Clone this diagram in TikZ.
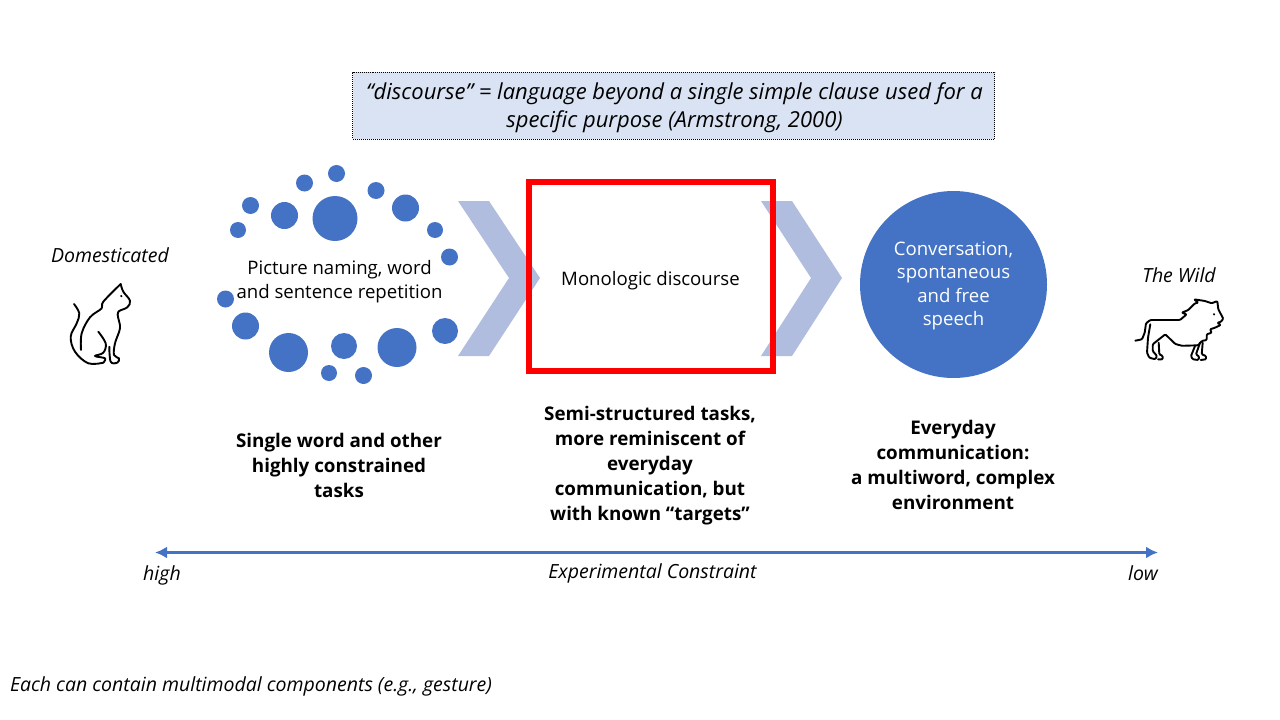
\documentclass[tikz,border=0pt]{standalone}
\usepackage{fontspec}
\setmainfont{Open Sans}
\usetikzlibrary{arrows.meta}
\definecolor{dotblue}{HTML}{4472C4}
\definecolor{chevblue}{HTML}{B0BDDE}
\definecolor{notefill}{HTML}{DAE3F3}
\tikzset{
  labeltext/.style={align=center,font=\fontsize{18.6}{23.5}\selectfont},
  boldtext/.style={align=center,font=\fontsize{18.8}{25}\selectfont\bfseries},
  slanttext/.style={font=\fontsize{19.5}{24}\selectfont\itshape},
  sketch/.style={line width=1.9pt,line cap=round,line join=round},
}
\begin{document}
\begin{tikzpicture}[x=1pt,y=-1pt]
  \useasboundingbox (0,0) rectangle (1280,720);
  % the definition on top
  \node[draw,dash pattern=on 1pt off 1pt,line width=.8pt,fill=notefill,minimum width=642pt,minimum height=67pt] (note) at (673.5,105.5) {};
  \node[align=center,font=\fontsize{22}{28}\selectfont\itshape] (notetext) at (674.5,107.5)
    {“discourse” = language beyond a single simple clause used for a\\specific purpose (Armstrong, 2000)};
  % ring of dots
  \foreach \x/\y/\r in {335/218.5/22.5, 284.5/215.5/13.5, 304.5/183/8.5, 336.5/173.5/8.5, 376/190.5/8.5,
    405.5/208/13.5, 435/230/8, 449.5/257/8.5, 250.5/205.5/8.5, 238/230/8, 225.5/299/8.5, 245.5/326/13.5,
    288.5/352.5/19.5, 344/346/13, 397/347.5/19.5, 445/331/13, 329/373/8, 363.5/375.5/8.5}
    \fill[dotblue] (\x,\y) circle (\r);
  \node[labeltext] (naming) at (339.5,281.5) {Picture naming, word\\and sentence repetition};
  % chevrons
  \fill[chevblue] (458,201) -- (489,201) -- (540,278) -- (489,356) -- (458,356) -- (509,278) -- cycle;
  \fill[chevblue] (761,201) -- (792,201) -- (842,278) -- (792,356) -- (761,356) -- (811,278) -- cycle;
  \node[draw=red,line width=5.6pt,minimum width=244pt,minimum height=189pt,outer sep=0pt] (mono) at (650.8,276.4) {};
  \node[labeltext] (monotext) at (650.5,280.5) {Monologic discourse};
  \node[circle,fill=dotblue,minimum size=187pt,inner sep=0pt] (speech) at (953.5,284.5) {};
  \node[labeltext,text=white] (speechtext) at (953.5,286) {Conversation,\\spontaneous\\and free\\speech};
  % the bold captions
  \node[boldtext] (single) at (339,465) {Single word and other\\highly constrained\\tasks};
  \node[boldtext] (semi) at (650,466) {Semi-structured tasks,\\more reminiscent of\\everyday\\communication, but\\with known “targets”};
  \node[boldtext] (everyday) at (953,464.5) {Everyday\\communication:\\a multiword, complex\\environment};
  % constraint axis
  \coordinate (high) at (155,552.5);
  \coordinate (low) at (1158,552.5);
  \draw[dotblue,line width=3.8pt,{Latex[length=12pt,width=12pt]}-{Latex[length=12pt,width=12pt]}] (high) -- (low);
  \node[slanttext] (hightext) at (162,575) {high};
  \node[slanttext] (lowtext) at (1143,573) {low};
  \node[slanttext] (axistext) at (652.5,573) {Experimental Constraint};
  \node[slanttext] (domestic) at (110,255) {Domesticated};
  \node[slanttext] (wild) at (1179,275) {The Wild};
  \node[slanttext,anchor=west] (multi) at (6.5,686.5) {Each can contain multimodal components (e.g., gesture)};
  % cat
  \draw[sketch] plot[smooth,tension=.6] coordinates {(74,304) (79.3,313.3) (76.7,323.3) (70.7,336.7) (75,351.7) (88.3,363.3) (103.3,362.7)};
  \draw[sketch] plot[smooth,tension=.6] coordinates {(103.3,362.7) (105,358.3) (95,356) (103.3,352.7) (105.7,343.3) (98.3,331.7)};
  \draw[sketch] plot[smooth,tension=.6] coordinates {(120.7,284) (103.3,301.7) (101.7,308.3) (90,317.3) (81.7,333.3) (81,350)};
  \draw[sketch] plot[smooth,tension=.6] coordinates {(120.7,284) (123.3,291.7) (130,300.7) (127.3,307.3) (118.3,311.7) (118.3,318.3) (120,328.3) (115,343.3) (114,355) (119,358.3) (117.3,362.7) (110.7,361.7) (109.3,346.7)};
  \fill (121.3,296) circle (1.2);
  % lion
  \draw[sketch,rounded corners=1pt] (1135.3,340.7) -- (1142,339.3) -- (1144.7,332.7) -- (1146,323.3) -- (1150.3,320) -- (1180,320)
    -- (1186.7,314.3) -- (1181.7,312.7) -- (1188.3,310) -- (1195,303.3) -- (1198.3,302.7) -- (1194,299.3) -- (1205,301) -- (1211.7,303.3) -- (1217.3,301)
    -- (1218.3,309.3) -- (1223.3,318.7) -- (1220.7,322) -- (1217.3,322.7) -- (1220.7,325) -- (1215,327.7) -- (1210,329.3) -- (1211.7,332.7)
    -- (1206.7,334.3) -- (1206.7,340) -- (1201.7,341) -- (1198.3,345.3) -- (1182,345.8) -- (1175.3,344) -- (1165.3,334.3) -- (1152.7,344.3)
    -- (1152.7,351) -- (1157,356) -- (1155.3,359.3) -- (1149.3,357.7) -- (1147,352.7) -- (1148,337.7) -- (1150.3,324.3);
  \draw[sketch,rounded corners=1pt] (1158.7,342.7) -- (1159.3,354.3) -- (1162.7,356) -- (1162.7,359.3) -- (1158,359.3);
  \draw[sketch,rounded corners=1pt] (1195,346) -- (1191,356) -- (1192.7,359.3) -- (1198.3,360) -- (1199.3,356.7) -- (1196,354.3) -- (1200,342.7);
  \draw[sketch,rounded corners=1pt] (1202.7,342.7) -- (1201.7,354.3) -- (1206,356) -- (1206,359.3) -- (1200.7,360);
  \fill (1214,314.3) circle (1.2);
\end{tikzpicture}
\end{document}
